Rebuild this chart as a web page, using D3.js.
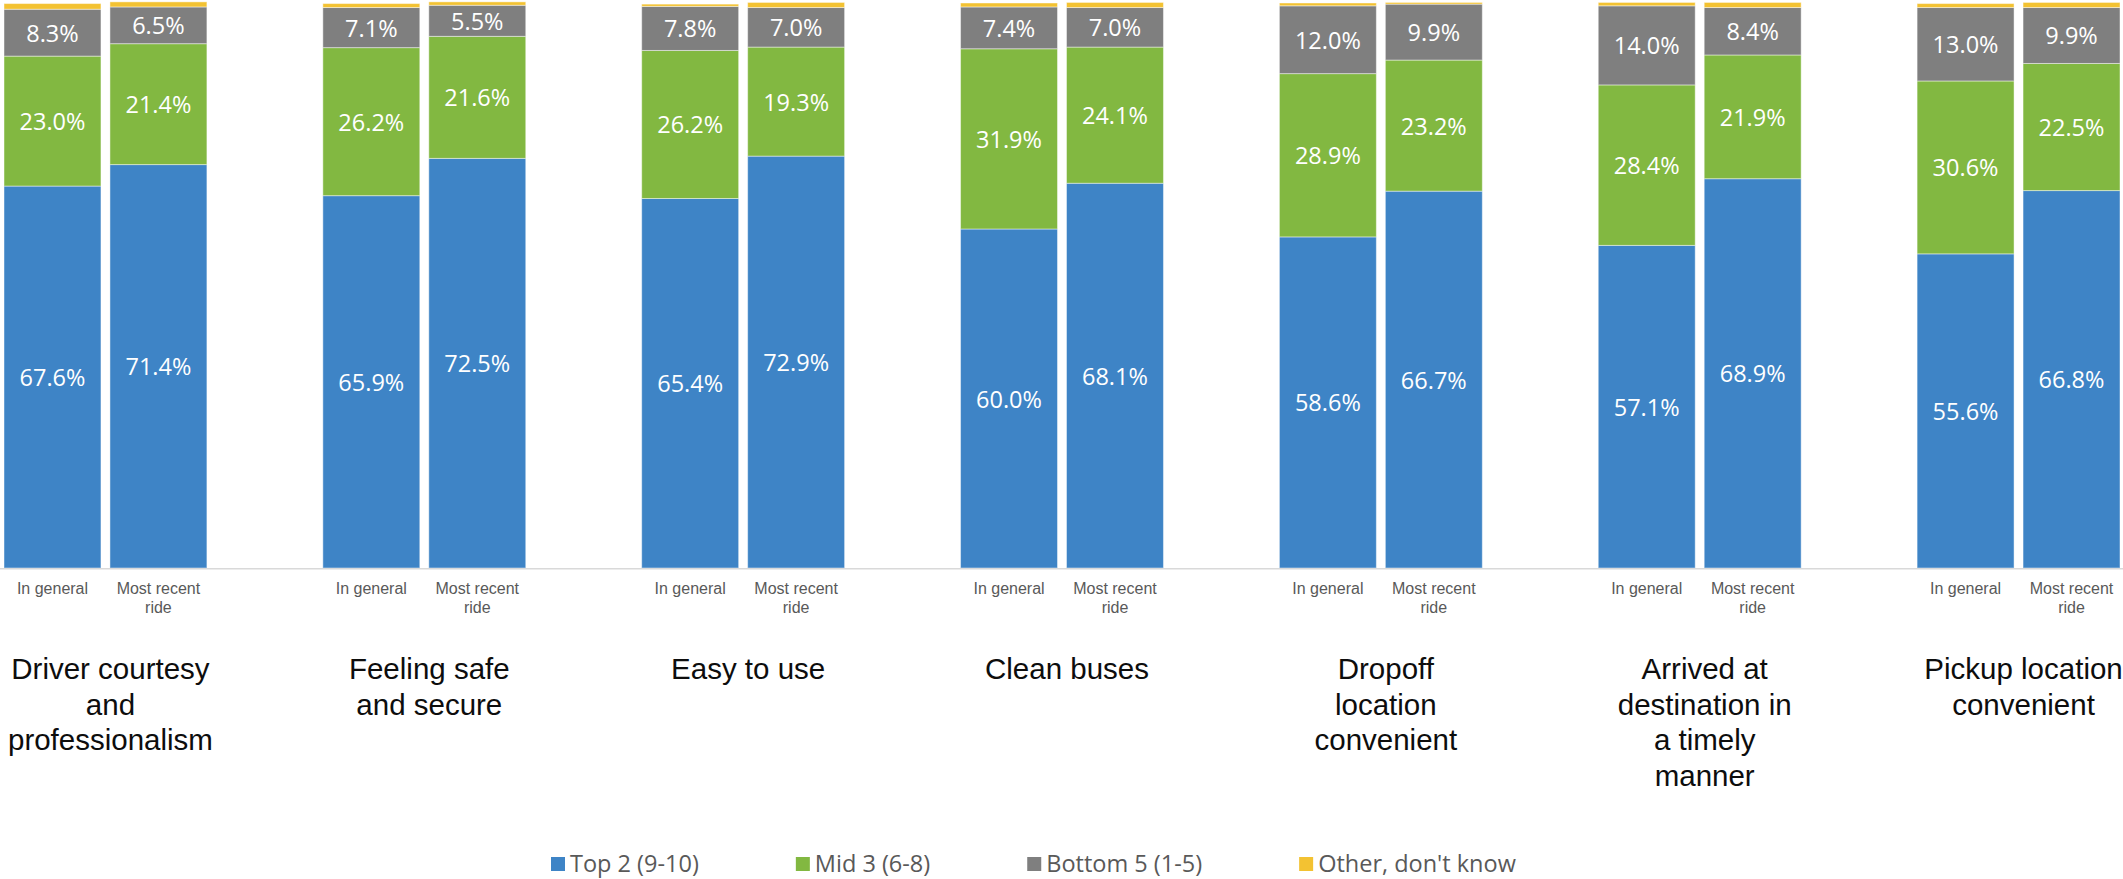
<!DOCTYPE html>
<html lang="en">
<head>
<meta charset="UTF-8">
<title>Rating by attribute: in general vs most recent ride</title>
<script src="https://cdnjs.cloudflare.com/ajax/libs/d3/7.8.5/d3.min.js"></script>
<style>
    body {
        margin: 0;
        background: #ffffff;
        overflow: hidden;
    }
    .seg-label {
        font-family: 'Open Sans', sans-serif;
        font-size: 23.5px;
        fill: #ffffff;
    }
    .period-label {
        font-family: 'Liberation Sans', Arial, sans-serif;
        font-size: 16px;
        fill: #595959;
    }
    .group-label {
        font-family: 'Liberation Sans', Arial, sans-serif;
        font-size: 29.5px;
        fill: #0d0d0d;
    }
    .legend-text {
        font-family: 'Open Sans', sans-serif;
        font-size: 23.5px;
        fill: #595959;
    }
</style>
</head>
<body>
<div id="chart"></div>

<script>
// attributes (x groups) and their wrapped labels
const groups = [
    "Driver courtesy and professionalism",
    "Feeling safe and secure",
    "Easy to use",
    "Clean buses",
    "Dropoff location convenient",
    "Arrived at destination in a timely manner",
    "Pickup location convenient"
];
const groupLines = [
    ["Driver courtesy", "and", "professionalism"],
    ["Feeling safe", "and secure"],
    ["Easy to use"],
    ["Clean buses"],
    ["Dropoff", "location", "convenient"],
    ["Arrived at", "destination in", "a timely", "manner"],
    ["Pickup location", "convenient"]
];

// two bars per group
const periods = ["In general", "Most recent ride"];
const periodLines = [["In general"], ["Most recent", "ride"]];

// series, in stack order (bottom to top)
const seriesNames = ["Top 2 (9-10)", "Mid 3 (6-8)", "Bottom 5 (1-5)", "Other, don't know"];
const seriesColors = ["#3e84c6", "#82b841", "#7f7f7f", "#f3c232"];

// values per group: [in general, most recent ride]
const top2    = [[67.6, 71.4], [65.9, 72.5], [65.4, 72.9], [60.0, 68.1], [58.6, 66.7], [57.1, 68.9], [55.6, 66.8]];
const mid3    = [[23.0, 21.4], [26.2, 21.6], [26.2, 19.3], [31.9, 24.1], [28.9, 23.2], [28.4, 21.9], [30.6, 22.5]];
const bottom5 = [[8.3, 6.5], [7.1, 5.5], [7.8, 7.0], [7.4, 7.0], [12.0, 9.9], [14.0, 8.4], [13.0, 9.9]];
const other   = [[1.0, 0.9], [0.7, 0.6], [0.4, 0.9], [0.7, 0.9], [0.5, 0.3], [0.6, 0.9], [0.7, 0.9]];

const seriesValues = [top2, mid3, bottom5, other];

// one row per bar
const rows = [];
groups.forEach((g, gi) => {
    periods.forEach((p, pi) => {
        const row = { group: g, period: p };
        seriesNames.forEach((s, si) => { row[s] = seriesValues[si][gi][pi]; });
        rows.push(row);
    });
});

const width = 2123;
const height = 879;
const baseY = 568;

const svg = d3.select("#chart")
    .append("svg")
    .attr("width", width)
    .attr("height", height);

const x0 = d3.scaleBand()
    .domain(groups)
    .range([4, 2120])
    .paddingInner(116 / 319)
    .paddingOuter(0);

const x1 = d3.scaleBand()
    .domain(periods)
    .range([0, x0.bandwidth()])
    .paddingInner(9 / 106)
    .paddingOuter(0);

const y = d3.scaleLinear()
    .domain([0, 100])
    .range([baseY, 3]);

const stack = d3.stack().keys(seriesNames);
const layers = stack(rows);

const color = d3.scaleOrdinal().domain(seriesNames).range(seriesColors);

// bars
const layerG = svg.selectAll("g.layer")
    .data(layers)
    .enter().append("g")
    .attr("class", "layer")
    .attr("fill", d => color(d.key));

layerG.selectAll("rect")
    .data(d => d)
    .enter().append("rect")
    .attr("x", d => x0(d.data.group) + x1(d.data.period))
    .attr("y", d => y(d[1]))
    .attr("width", x1.bandwidth())
    .attr("height", d => y(d[0]) - y(d[1]))
    .attr("stroke", "#ffffff")
    .attr("stroke-width", 1)
    .attr("stroke-opacity", 0.45);

// value labels (not on the "other" sliver)
layerG.filter(d => d.key !== "Other, don't know")
    .selectAll("text")
    .data(d => d.map(v => ({ v, key: d.key })))
    .enter().append("text")
    .attr("class", "seg-label")
    .attr("x", d => x0(d.v.data.group) + x1(d.v.data.period) + x1.bandwidth() / 2)
    .attr("y", d => (y(d.v[0]) + y(d.v[1])) / 2)
    .attr("text-anchor", "middle")
    .attr("dominant-baseline", "central")
    .text(d => d3.format(".1f")(d.v.data[d.key]) + "%");

// baseline
svg.append("line")
    .attr("x1", 0)
    .attr("x2", width)
    .attr("y1", y(0) + 0.75)
    .attr("y2", y(0) + 0.75)
    .attr("stroke", "#d9d9d9")
    .attr("stroke-width", 1.5);

// period labels under each bar
groups.forEach(g => {
    periods.forEach((p, pi) => {
        const t = svg.append("text")
            .attr("class", "period-label")
            .attr("text-anchor", "middle");
        periodLines[pi].forEach((line, li) => {
            t.append("tspan")
                .attr("x", x0(g) + x1(p) + x1.bandwidth() / 2)
                .attr("y", 593.5 + li * 19)
                .text(line);
        });
    });
});

// group labels
groups.forEach((g, gi) => {
    const t = svg.append("text")
        .attr("class", "group-label")
        .attr("text-anchor", "middle");
    groupLines[gi].forEach((line, li) => {
        t.append("tspan")
            .attr("x", x0(g) + x0.bandwidth() / 2 + 5)
            .attr("y", 679 + li * 35.5)
            .text(line);
    });
});

// legend
const legend = svg.append("g").attr("transform", "translate(551,857)");
let lx = 0;
seriesNames.forEach((s, i) => {
    const item = legend.append("g").attr("transform", `translate(${lx},0)`);
    item.append("rect")
        .attr("width", 14)
        .attr("height", 14)
        .attr("fill", color(s));
    const txt = item.append("text")
        .attr("class", "legend-text")
        .attr("x", 19)
        .attr("y", 6)
        .attr("dominant-baseline", "central")
        .text(s);
    lx += 19 + txt.node().getComputedTextLength() + 97;
});
</script>
</body>
</html>
